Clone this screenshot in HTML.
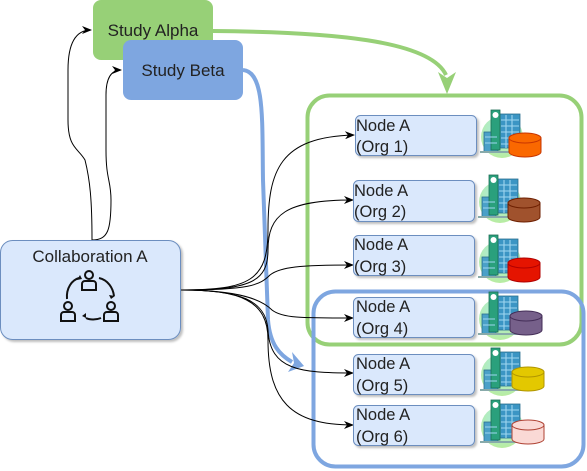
<!DOCTYPE html>
<html><head><meta charset="utf-8"><style>
html,body{margin:0;padding:0;background:#fff;}
svg{display:block;font-family:"Liberation Sans",Arial,sans-serif;}
</style></head><body>
<svg width="587" height="471" viewBox="0 0 587 471" xmlns="http://www.w3.org/2000/svg">
<defs>
<marker id="ah" markerWidth="10" markerHeight="8" refX="9" refY="4" orient="auto" markerUnits="userSpaceOnUse"><path d="M0,0 L10,4 L0,8 L3,4 Z" fill="#000"/></marker>
<filter id="sh" x="-10%" y="-10%" width="130%" height="130%"><feDropShadow dx="2" dy="2" stdDeviation="1" flood-color="#000" flood-opacity="0.25"/></filter>
<radialGradient id="cg" cx="0.5" cy="0.35" r="0.65"><stop offset="0" stop-color="#a8ecf0"/><stop offset="1" stop-color="#b8eca0"/></radialGradient>
<g id="bld">
<circle cx="20" cy="27" r="21" fill="url(#cg)"/>
<rect x="2" y="22" width="14" height="20" fill="#4aa0c8" stroke="#2c6f8e" stroke-width="0.8"/>
<rect x="14" y="4" width="24" height="34" fill="#3b95c4" stroke="#2c6f8e" stroke-width="0.8"/>
<rect x="9" y="0" width="9" height="40" fill="#2aa07c" stroke="#1d6e55" stroke-width="0.8"/>
<circle cx="13.5" cy="5" r="3" fill="#fff"/>
<path d="M19,10 h18 M19,16 h18 M19,22 h18 M19,28 h18 M19,34 h18 M3,27 h12 M3,33 h12 M24,5 v33 M30,5 v33" stroke="#9fd6ef" stroke-width="1.1"/>
<rect x="-2" y="41" width="42" height="2" fill="#8aa"/>
</g>
</defs>

<rect x="307.5" y="95.5" width="274" height="249" rx="22" fill="none" stroke="#97d077" stroke-width="4"/>
<rect x="313.5" y="291.5" width="270" height="175" rx="22" fill="none" stroke="#7ea6e0" stroke-width="4"/>

<path d="M92,240 C92,200 90,180 85,160 C78,148 68,148 68,120 L68,70 C68,40 78,30 91,30" fill="none" stroke="#000" stroke-width="1" marker-end="url(#ah)"/>
<path d="M92,240 C108,240 111,230 111,200 C111,180 106,180 106,150 L106,95 C106,78 111,70 121,70" fill="none" stroke="#000" stroke-width="1" marker-end="url(#ah)"/>

<rect x="93" y="0" width="120" height="60" rx="8" fill="#97d077"/>
<text x="153" y="36" font-size="17" text-anchor="middle" fill="#222">Study Alpha</text>
<rect x="123" y="40" width="120" height="60" rx="8" fill="#7ea6e0"/>
<text x="183" y="76" font-size="17" text-anchor="middle" fill="#222">Study Beta</text>

<path d="M213,31 C330,32 430,40 446,75" fill="none" stroke="#97d077" stroke-width="4"/>
<path d="M438,72 L447,94 L456,72 L447,78 Z" fill="#97d077"/>
<path d="M243,70 C265,72 262,120 263,180 L268,320 C270,345 280,355 292,362" fill="none" stroke="#7ea6e0" stroke-width="4"/>
<path d="M292,352 L304,366 L288,372 L294,363 Z" fill="#7ea6e0"/>

<g fill="none" stroke="#000" stroke-width="1" marker-end="url(#ah)">
<path d="M181,290 C250,290 268,280 268,230 C268,170 280,137 354,135"/>
<path d="M181,290 C250,290 268,282 268,250 C268,215 285,200 353,200"/>
<path d="M181,290 C250,290 260,285 270,275 C280,267 300,265 353,265"/>
<path d="M181,290 C240,290 262,300 272,310 C282,318 300,318 353,318"/>
<path d="M181,290 C240,290 266,300 268,330 C270,370 300,373 353,373"/>
<path d="M181,290 C240,290 268,300 268,340 C268,400 290,425 353,425"/>
</g>

<rect x="0.5" y="240.5" width="180" height="99" rx="12" fill="#dae8fc" stroke="#6c8ebf" filter="url(#sh)"/>
<text x="90" y="262" font-size="17" text-anchor="middle" fill="#222">Collaboration A</text>
<g fill="none" stroke="#111" stroke-width="2">
<circle cx="89" cy="275" r="4"/><path d="M82,290 v-6 a3,3 0 0 1 3,-3 h8 a3,3 0 0 1 3,3 v6 z"/>
<circle cx="68" cy="306" r="4"/><path d="M61,321 v-6 a3,3 0 0 1 3,-3 h8 a3,3 0 0 1 3,3 v6 z"/>
<circle cx="111" cy="306" r="4"/><path d="M104,321 v-6 a3,3 0 0 1 3,-3 h8 a3,3 0 0 1 3,3 v6 z"/>
<path d="M67,299 C66,288 72,280 79,278"/><path d="M99,278 C108,280 113,288 114,296"/><path d="M101,318 C96,320 90,320 86,318"/>
</g>
<path d="M80,275 l2,4 l-5,1 z M111,299 l4,-3 l-6,-1 z M82,316 l4,-3 l0,5 z" fill="#111"/>

<g font-size="16.5" fill="#222">
<rect x="355.5" y="115.5" width="121" height="40" rx="5" fill="#dae8fc" stroke="#6c8ebf" filter="url(#sh)"/>
<text x="356" y="131">Node A</text><text x="356" y="152">(Org 1)</text>
<rect x="353.5" y="180.5" width="121" height="41" rx="5" fill="#dae8fc" stroke="#6c8ebf" filter="url(#sh)"/>
<text x="354" y="196">Node A</text><text x="354" y="217">(Org 2)</text>
<rect x="353.5" y="235.5" width="121" height="40" rx="5" fill="#dae8fc" stroke="#6c8ebf" filter="url(#sh)"/>
<text x="354" y="250">Node A</text><text x="354" y="272">(Org 3)</text>
<rect x="353.5" y="297.5" width="121" height="40" rx="5" fill="#dae8fc" stroke="#6c8ebf" filter="url(#sh)"/>
<text x="356" y="312">Node A</text><text x="356" y="334">(Org 4)</text>
<rect x="353.5" y="354.5" width="121" height="40" rx="5" fill="#dae8fc" stroke="#6c8ebf" filter="url(#sh)"/>
<text x="356" y="369">Node A</text><text x="356" y="391">(Org 5)</text>
<rect x="353.5" y="405.5" width="121" height="40" rx="5" fill="#dae8fc" stroke="#6c8ebf" filter="url(#sh)"/>
<text x="356" y="420">Node A</text><text x="356" y="442">(Org 6)</text>
</g>

<g>
<use href="#bld" x="482" y="110"/>
<use href="#bld" x="480" y="175"/>
<use href="#bld" x="480" y="235"/>
<use href="#bld" x="480" y="292"/>
<use href="#bld" x="482" y="348"/>
<use href="#bld" x="482" y="400"/>
</g>
<g stroke-width="1">
<g fill="#fa6800" stroke="#c73500"><path d="M509,138 v14 a16,5 0 0 0 32,0 v-14 z"/><ellipse cx="525" cy="138" rx="16" ry="5"/></g>
<g fill="#a0522d" stroke="#6d1f00"><path d="M508,203 v14 a16,5 0 0 0 32,0 v-14 z"/><ellipse cx="524" cy="203" rx="16" ry="5"/></g>
<g fill="#e51400" stroke="#b20000"><path d="M508,263 v14 a16,5 0 0 0 32,0 v-14 z"/><ellipse cx="524" cy="263" rx="16" ry="5"/></g>
<g fill="#76608a" stroke="#432d57"><path d="M510,316 v14 a16,5 0 0 0 32,0 v-14 z"/><ellipse cx="526" cy="316" rx="16" ry="5"/></g>
<g fill="#e3c800" stroke="#b09500"><path d="M512,372 v14 a16,5 0 0 0 32,0 v-14 z"/><ellipse cx="528" cy="372" rx="16" ry="5"/></g>
<g fill="#fad9d5" stroke="#ae4132"><path d="M512,425 v14 a16,5 0 0 0 32,0 v-14 z"/><ellipse cx="528" cy="425" rx="16" ry="5"/></g>
</g>
</svg>
</body></html>
